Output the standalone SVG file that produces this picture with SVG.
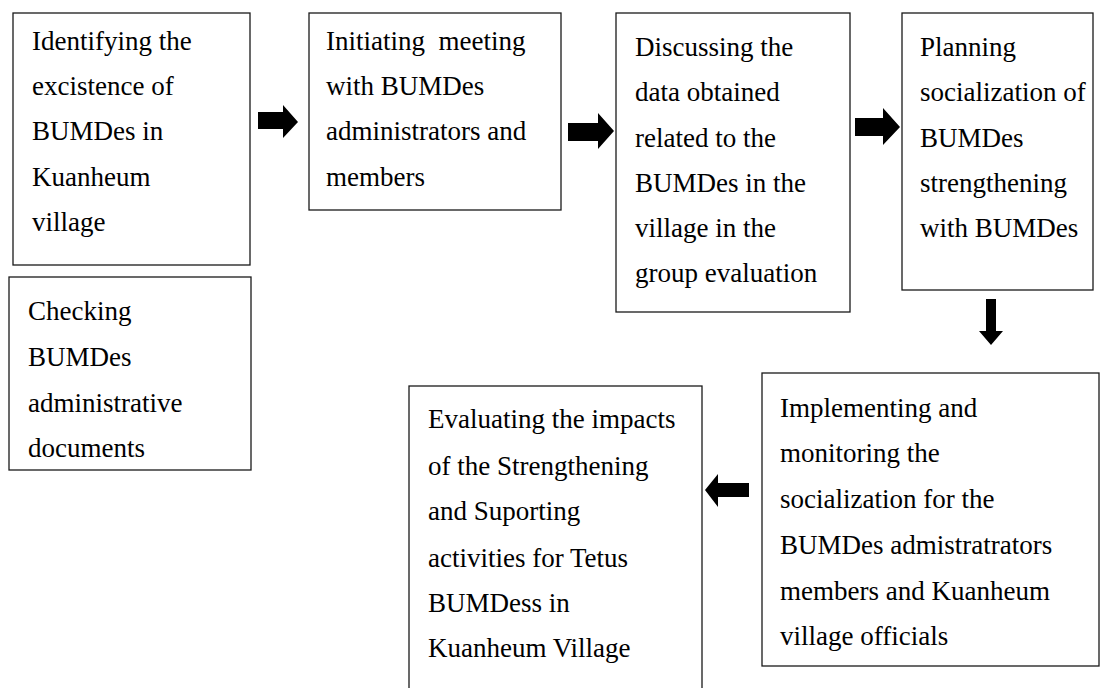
<svg xmlns="http://www.w3.org/2000/svg" width="1102" height="688" viewBox="0 0 1102 688">
<style>
.box{fill:#fff;stroke:#1a1a1a;stroke-width:1.3}
.t{font-family:"Liberation Serif","Times New Roman",serif;font-size:27px;fill:#000}
.arr{fill:#000}
</style>
<rect width="1102" height="688" fill="#fff"/>
<g id="connectors">
<polygon class="arr" points="258,112 283,112 283,105 298,122 283,138 283,129 258,129"/>
<polygon class="arr" points="568,123 598,123 598,113 614,131 598,149 598,141 568,141"/>
<polygon class="arr" points="855,118 883,118 883,108 900,127 883,145 883,136 855,136"/>
<polygon class="arr" points="986,299 996,299 996,331 1003,331 991,345 979,331 986,331"/>
<polygon class="arr" points="749,483 718,483 718,474 705,490 718,507 718,497 749,497"/>
</g>
<g id="n1">
<rect class="box" x="13" y="13" width="237" height="252"/>
<text class="t" x="32" y="50">Identifying the</text>
<text class="t" x="32" y="95">excistence of</text>
<text class="t" x="32" y="140">BUMDes in</text>
<text class="t" x="32" y="186">Kuanheum</text>
<text class="t" x="32" y="231">village</text>
</g>
<g id="n2">
<rect class="box" x="9" y="277" width="242" height="193"/>
<text class="t" x="28" y="320">Checking</text>
<text class="t" x="28" y="366">BUMDes</text>
<text class="t" x="28" y="412">administrative</text>
<text class="t" x="28" y="457">documents</text>
</g>
<g id="n3">
<rect class="box" x="309" y="13" width="252" height="197"/>
<text class="t" x="326" y="50" xml:space="preserve">Initiating  meeting</text>
<text class="t" x="326" y="95">with BUMDes</text>
<text class="t" x="326" y="140">administrators and</text>
<text class="t" x="326" y="186">members</text>
</g>
<g id="n4">
<rect class="box" x="616" y="13" width="234" height="299"/>
<text class="t" x="635" y="56">Discussing the</text>
<text class="t" x="635" y="101">data obtained</text>
<text class="t" x="635" y="147">related to the</text>
<text class="t" x="635" y="192">BUMDes in the</text>
<text class="t" x="635" y="237">village in the</text>
<text class="t" x="635" y="282">group evaluation</text>
</g>
<g id="n5">
<rect class="box" x="902" y="13" width="191" height="277"/>
<text class="t" x="920" y="56">Planning</text>
<text class="t" x="920" y="101">socialization of</text>
<text class="t" x="920" y="147">BUMDes</text>
<text class="t" x="920" y="192">strengthening</text>
<text class="t" x="920" y="237">with BUMDes</text>
</g>
<g id="n6">
<rect class="box" x="762" y="373" width="337" height="293"/>
<text class="t" x="780" y="417">Implementing and</text>
<text class="t" x="780" y="462">monitoring the</text>
<text class="t" x="780" y="508">socialization for the</text>
<text class="t" x="780" y="554">BUMDes admistratrators</text>
<text class="t" x="780" y="600">members and Kuanheum</text>
<text class="t" x="780" y="645">village officials</text>
</g>
<g id="n7">
<rect class="box" x="409" y="386" width="293" height="320"/>
<text class="t" x="428" y="428">Evaluating the impacts</text>
<text class="t" x="428" y="475">of the Strengthening</text>
<text class="t" x="428" y="520">and Suporting</text>
<text class="t" x="428" y="567">activities for Tetus</text>
<text class="t" x="428" y="612">BUMDess in</text>
<text class="t" x="428" y="657">Kuanheum Village</text>
</g>
</svg>
